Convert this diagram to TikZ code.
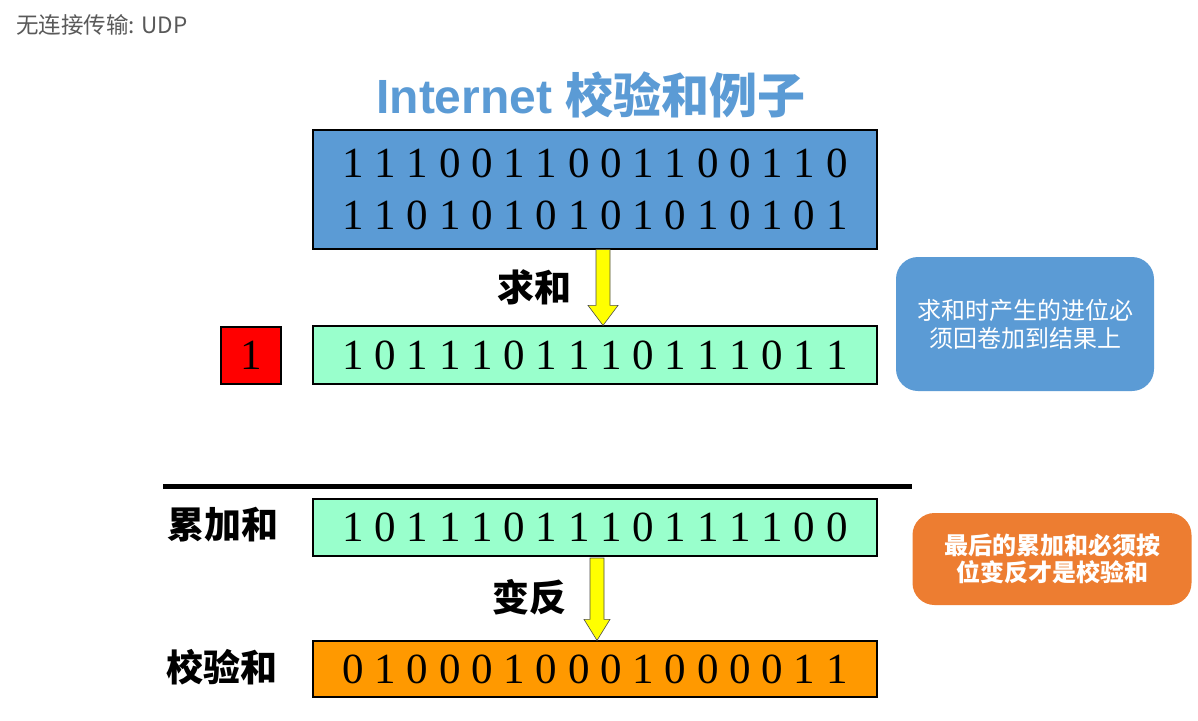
\documentclass[tikz,border=0pt]{standalone}
\usepackage{fontspec}
\setmainfont{Liberation Serif}
\newfontfamily\cjk{Noto Sans CJK SC}
\newfontfamily\arialf{Liberation Sans}
\usetikzlibrary{calc}
\definecolor{hdrgray}{HTML}{595959}
\definecolor{tblue}{HTML}{5B9BD5}
\definecolor{mint}{HTML}{99FFCC}
\definecolor{orng}{HTML}{FF9900}
\definecolor{orng2}{HTML}{ED7D31}
\definecolor{yarrow}{HTML}{FFFF00}
\tikzset{
  bitbox/.style={draw=black, line width=1.2pt, inner sep=0pt, minimum width=564pt,
    align=center, font=\fontsize{43}{52}\selectfont},
  note/.style={rounded corners=22pt, inner sep=0pt, text=white, align=center,
    font=\cjk\fontsize{24}{28}\selectfont},
  lbl/.style={font=\cjk\bfseries\fontsize{37}{40}\selectfont, inner sep=0pt},
  yarrowshape/.style={fill=yarrow, draw=black!70, line width=0.6pt, line join=miter}
}
\begin{document}
\begin{tikzpicture}[x=1pt,y=-1pt]
\useasboundingbox[fill=white] (0,0) rectangle (1198,720);
% header
\node[anchor=west, inner sep=0pt, text=hdrgray, font=\cjk\fontsize{22.5}{24}\selectfont] (hdr) at (16,25) {无连接传输: UDP};
% title
\node[inner sep=0pt, text=tblue] (title) at (591,95)
  {\fontsize{48}{52}\selectfont{\arialf\bfseries Internet }{\cjk\bfseries 校验和例子}};
% boxes
\node[bitbox, fill=tblue, minimum height=119pt] (blue) at (595,189.5)
  {1 1 1 0 0 1 1 0 0 1 1 0 0 1 1 0\\1 1 0 1 0 1 0 1 0 1 0 1 0 1 0 1};
\node[bitbox, fill=mint, minimum height=58pt] (sum) at (595,355)
  {1 0 1 1 1 0 1 1 1 0 1 1 1 0 1 1};
\node[draw=black, line width=1.2pt, fill=red, minimum width=60pt, minimum height=57pt, inner sep=0pt,
  font=\fontsize{43}{50}\selectfont] (carry) at (251,355.5) {1};
\node[bitbox, fill=mint, minimum height=57pt] (acc) at (595,527.5)
  {1 0 1 1 1 0 1 1 1 0 1 1 1 1 0 0};
\node[bitbox, fill=orng, minimum height=56pt] (chk) at (595,669)
  {0 1 0 0 0 1 0 0 0 1 0 0 0 0 1 1};
% notes
\node[note, fill=tblue, minimum width=258pt, minimum height=134pt] (note1) at (1025,324)
  {求和时产生的进位必\\须回卷加到结果上};
\node[note, fill=orng2, minimum width=279pt, minimum height=92pt, font=\cjk\bfseries\fontsize{24}{27}\selectfont] (note2) at (1052,559)
  {最后的累加和必须按\\位变反才是校验和};
% labels
\node[lbl] (lsum) at (534,287) {求和};
\node[lbl] (linv) at (529,597) {变反};
\node[lbl] (lacc) at (223,525) {累加和};
\node[lbl] (lchk) at (222,667) {校验和};
% separator
\coordinate (sepL) at (163,486);
\coordinate (sepR) at (912,486);
\draw[line width=5pt] (sepL) -- (sepR);
% arrows
\coordinate (a1s) at (blue.south -| 603,0);
\coordinate (a1e) at (sum.north -| 603,0);
\draw[yarrowshape] ($(a1s)+(-7,0)$) -- ($(a1e)+(-7,-20)$) -- ($(a1e)+(-15,-20)$) -- (a1e)
  -- ($(a1e)+(15,-20)$) -- ($(a1e)+(7,-20)$) -- ($(a1s)+(7,0)$) -- cycle;
\coordinate (a2s) at (597,558);
\coordinate (a2e) at (chk.north -| 597,0);
\draw[yarrowshape] ($(a2s)+(-7,0)$) -- ($(a2e)+(-7,-21)$) -- ($(a2e)+(-13,-21)$) -- (a2e)
  -- ($(a2e)+(13,-21)$) -- ($(a2e)+(7,-21)$) -- ($(a2s)+(7,0)$) -- cycle;
\end{tikzpicture}
\end{document}
